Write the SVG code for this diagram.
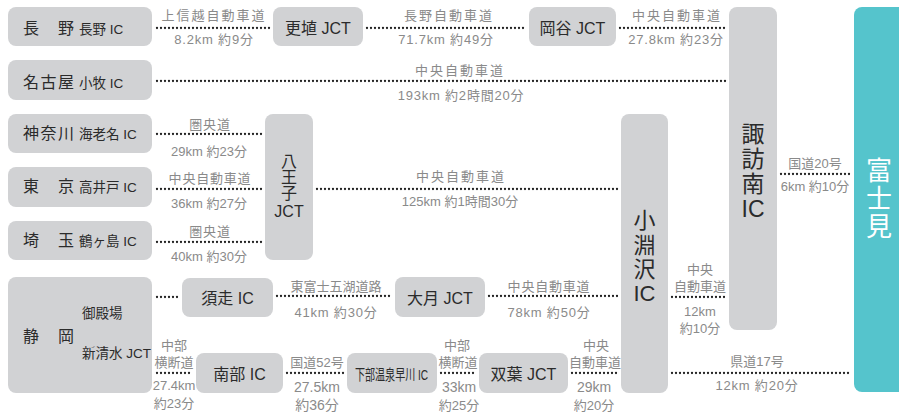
<svg xmlns="http://www.w3.org/2000/svg" width="899" height="414" viewBox="0 0 899 414">
<style>
.box{fill:#d1d2d4}
.fuji{fill:#55c4cc}
.t{font-family:"Liberation Sans","Noto Sans CJK JP",sans-serif;fill:#2b2b2b}
.big{font-size:16px;letter-spacing:1.5px}
.sm{font-size:13.5px}
.nd{font-size:16px;text-anchor:middle}
.v{font-size:23px;text-anchor:middle}
.v2{font-size:22px;text-anchor:middle}
.fv{font-family:"Liberation Sans","Noto Sans CJK JP",sans-serif;fill:#fff;font-size:26px;text-anchor:middle}
.l{font-family:"Liberation Sans","Noto Sans CJK JP",sans-serif;fill:#8a8a8a;font-size:13px;text-anchor:middle}
.w{letter-spacing:2px}
.m{letter-spacing:0.8px}
.dot{stroke:#222;stroke-width:2.3;stroke-dasharray:0 4;stroke-linecap:round;fill:none}
</style>
<rect width="899" height="414" fill="#fff"/>
<g id="nagano"><rect class="box" x="8" y="7" width="144" height="39" rx="8"/><text class="t big" x="23" y="34">長　野</text><text class="t sm" x="79" y="34">長野 IC</text></g>
<g id="nagoya"><rect class="box" x="8" y="60" width="144" height="40" rx="8"/><text class="t big" x="23" y="88">名古屋</text><text class="t sm" x="79" y="88">小牧 IC</text></g>
<g id="kanagawa"><rect class="box" x="8" y="114" width="144" height="39" rx="8"/><text class="t big" x="23" y="139">神奈川</text><text class="t sm" x="79" y="139">海老名 IC</text></g>
<g id="tokyo"><rect class="box" x="8" y="167" width="144" height="40" rx="8"/><text class="t big" x="23" y="192">東　京</text><text class="t sm" x="79" y="192">高井戸 IC</text></g>
<g id="saitama"><rect class="box" x="8" y="221" width="144" height="39" rx="8"/><text class="t big" x="23" y="246">埼　玉</text><text class="t sm" x="79" y="246">鶴ヶ島 IC</text></g>
<g id="shizuoka"><rect class="box" x="8" y="277" width="144" height="116" rx="8"/><text class="t big" x="23" y="342">静　岡</text><text class="t sm" x="82" y="318">御殿場</text><text class="t sm" x="82" y="358">新清水 JCT</text></g>
<g id="koshoku"><rect class="box" x="273" y="7" width="90" height="39" rx="8"/><text class="t nd" x="318" y="34">更埴 JCT</text></g>
<g id="okaya"><rect class="box" x="529" y="7" width="87" height="39" rx="8"/><text class="t nd" x="572.5" y="34">岡谷 JCT</text></g>
<g id="suwaminami"><rect class="box" x="729" y="7" width="48" height="323" rx="8"/><text class="t v" x="753" y="142">諏</text><text class="t v" x="753" y="167">訪</text><text class="t v" x="753" y="192">南</text><text class="t v" x="753" y="217">IC</text></g>
<g id="fujimi"><rect class="fuji" x="854" y="7" width="54" height="385" rx="8"/><text class="fv" x="879" y="180">富</text><text class="fv" x="879" y="208">士</text><text class="fv" x="879" y="236">見</text></g>
<g id="hachioji"><rect class="box" x="265" y="114" width="48" height="146" rx="8"/><text class="t nd" x="289" y="167">八</text><text class="t nd" x="289" y="183">王</text><text class="t nd" x="289" y="199">子</text><text class="t nd" x="289" y="217">JCT</text></g>
<g id="kobuchizawa"><rect class="box" x="621" y="114" width="47" height="279" rx="8"/><text class="t v2" x="644.5" y="228">小</text><text class="t v2" x="644.5" y="252.5">淵</text><text class="t v2" x="644.5" y="277">沢</text><text class="t v2" x="644.5" y="301">IC</text></g>
<g id="subashiri"><rect class="box" x="182" y="278" width="91" height="39" rx="8"/><text class="t nd" x="227.5" y="304">須走 IC</text></g>
<g id="otsuki"><rect class="box" x="395" y="277" width="90" height="40" rx="8"/><text class="t nd" x="440" y="304">大月 JCT</text></g>
<g id="nanbu"><rect class="box" x="196" y="353" width="87" height="40" rx="8"/><text class="t nd" x="239.5" y="380">南部 IC</text></g>
<g id="shimobe"><rect class="box" x="347" y="353" width="90" height="40" rx="8"/><text class="t" transform="translate(391.5 380) scale(0.67 1)" style="font-size:15px;text-anchor:middle">下部温泉早川 IC</text></g>
<g id="futaba"><rect class="box" x="479" y="353" width="89" height="40" rx="8"/><text class="t nd" x="523.5" y="380">双葉 JCT</text></g>
<g id="connectors">
<path class="dot" d="M157 28H270M367 28H526M620 28H726M157 81H726M157 134H262M157 189H262M157 242H262M317 189H618M781 174H851M157 297H179M277 296H392M489 296H618M672 297H726M157 373H193M287 373H344M441 373H476M572 373H618M672 373H851"/>
<text class="l w" x="214" y="20">上信越自動車道</text><text class="l m" x="214" y="44">8.2km 約9分</text>
<text class="l w" x="449" y="20">長野自動車道</text><text class="l m" x="446" y="44">71.7km 約49分</text>
<text class="l w" x="677" y="20">中央自動車道</text><text class="l m" x="676" y="44">27.8km 約23分</text>
<text class="l w" x="460" y="75">中央自動車道</text><text class="l m" x="461" y="100">193km 約2時間20分</text>
<text class="l m" x="210" y="129">圏央道</text><text class="l" x="209" y="156">29km 約23分</text>
<text class="l m" x="210" y="183">中央自動車道</text><text class="l" x="209" y="208">36km 約27分</text>
<text class="l m" x="210" y="236">圏央道</text><text class="l" x="209" y="261">40km 約30分</text>
<text class="l w" x="461" y="181">中央自動車道</text><text class="l" x="460" y="206">125km 約1時間30分</text>
<text class="l" x="815" y="168">国道20号</text><text class="l" x="815" y="191">6km 約10分</text>
<text class="l" x="336" y="291">東富士五湖道路</text><text class="l m" x="336" y="317">41km 約30分</text>
<text class="l m" x="549" y="291">中央自動車道</text><text class="l m" x="549" y="317">78km 約50分</text>
<text class="l" x="700" y="274">中央</text><text class="l" x="700" y="291">自動車道</text><text class="l" x="700" y="316">12km</text><text class="l" x="700" y="333">約10分</text>
<text class="l" x="174" y="350">中部</text><text class="l" x="174" y="367">横断道</text><text class="l" x="174" y="390">27.4km</text><text class="l" x="174" y="408">約23分</text>
<text class="l" x="317" y="367">国道52号</text><text class="l" x="317" y="392" style="font-size:14px">27.5km</text><text class="l" x="317" y="410" style="font-size:14px">約36分</text>
<text class="l" x="457" y="350">中部</text><text class="l" x="458" y="367">横断道</text><text class="l" x="459" y="392" style="font-size:14px">33km</text><text class="l" x="459" y="410">約25分</text>
<text class="l" x="596" y="350">中央</text><text class="l" x="595" y="367">自動車道</text><text class="l" x="594" y="392" style="font-size:14px">29km</text><text class="l" x="594" y="410">約20分</text>
<text class="l" x="757" y="366">県道17号</text><text class="l m" x="757" y="390">12km 約20分</text>
</g>
</svg>
